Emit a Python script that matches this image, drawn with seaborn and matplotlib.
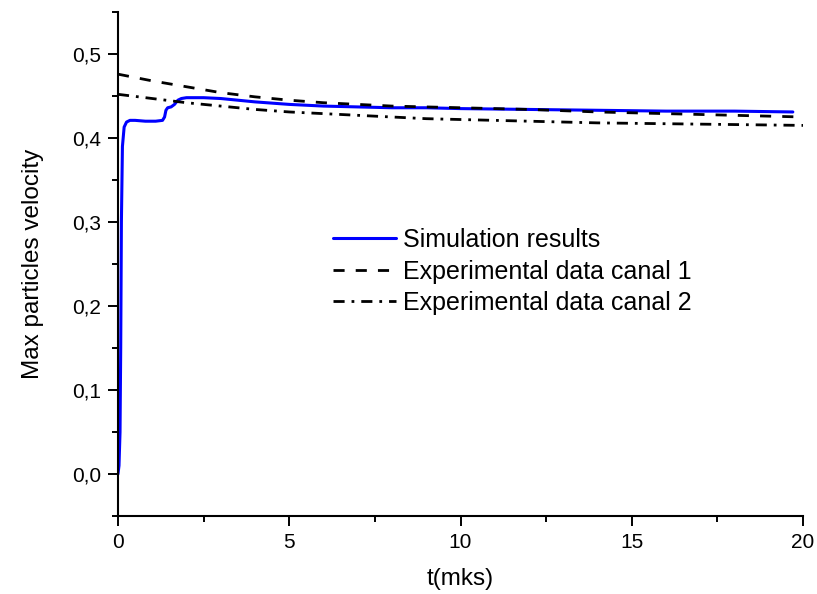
import numpy as np
import pandas as pd
import seaborn as sns
import matplotlib
matplotlib.use("Agg")
import matplotlib.pyplot as plt
from matplotlib.ticker import MultipleLocator, FuncFormatter

# Simulation results
sim_t = [0, 0.03, 0.06, 0.08, 0.1, 0.13, 0.18, 0.25, 0.35, 0.5, 0.8, 1.1, 1.3,
         1.36, 1.40, 1.45, 1.55, 1.65, 1.75, 1.85, 2.0, 2.5, 3.0, 3.5, 4, 5, 6,
         7, 8, 9, 10, 12, 14, 16, 18, 19.7]
sim_v = [0, 0.01, 0.05, 0.15, 0.30, 0.39, 0.413, 0.419, 0.421, 0.421, 0.420,
         0.420, 0.421, 0.425, 0.433, 0.436, 0.437, 0.440, 0.445, 0.447, 0.448,
         0.448, 0.447, 0.445, 0.443, 0.440, 0.438, 0.437, 0.436, 0.436, 0.435,
         0.434, 0.433, 0.432, 0.432, 0.431]

# Experimental data, canal 1
exp1_t = [0, 1, 2, 3, 4, 5, 6, 7, 8, 9, 10, 12, 14, 16, 18, 20]
exp1_v = [0.476, 0.468, 0.461, 0.454, 0.449, 0.445, 0.442, 0.440, 0.438,
          0.437, 0.436, 0.434, 0.431, 0.429, 0.427, 0.425]

# Experimental data, canal 2
exp2_t = [0, 1, 2, 3, 4, 5, 6, 7, 8, 9, 10, 12, 14, 16, 18, 20]
exp2_v = [0.452, 0.447, 0.442, 0.438, 0.434, 0.431, 0.429, 0.427, 0.425,
          0.423, 0.422, 0.420, 0.418, 0.417, 0.416, 0.415]

labels = ["Simulation results", "Experimental data canal 1",
          "Experimental data canal 2"]

sns.set_theme(style="ticks")
plt.rcParams["font.family"] = ["Liberation Sans", "DejaVu Sans"]

fig = plt.figure(figsize=(8.17, 5.94), dpi=100)
ax = fig.add_axes([0.1444, 0.1313, 0.8386, 0.8485])

sns.lineplot(x=sim_t, y=sim_v, ax=ax, color="#0000ff", linewidth=2.2,
             label=labels[0], estimator=None, sort=False)
sns.lineplot(x=exp1_t, y=exp1_v, ax=ax, color="black", linewidth=2.0,
             label=labels[1], estimator=None, sort=False)
sns.lineplot(x=exp2_t, y=exp2_v, ax=ax, color="black", linewidth=2.0,
             label=labels[2], estimator=None, sort=False)

lines = ax.get_lines()
lines[1].set_dashes([4, 4])
lines[2].set_dashes([4, 2.5, 1, 2.5])

ax.set_xlim(0, 20)
ax.set_ylim(-0.05, 0.55)
ax.xaxis.set_major_locator(MultipleLocator(5))
ax.xaxis.set_minor_locator(MultipleLocator(2.5))
ax.yaxis.set_major_locator(MultipleLocator(0.1))
ax.yaxis.set_minor_locator(MultipleLocator(0.05))
ax.yaxis.set_major_formatter(FuncFormatter(lambda v, p: f"{v:.1f}".replace(".", ",")))

for side in ("top", "right"):
    ax.spines[side].set_visible(False)
for side in ("left", "bottom"):
    ax.spines[side].set_linewidth(1.5)
    ax.spines[side].set_color("black")

ax.tick_params(which="major", length=7, width=1.4, color="black",
               labelsize=15, labelcolor="black", pad=5)
ax.tick_params(which="minor", length=4.5, width=1.4, color="black")

ax.set_xlabel("t(mks)", fontsize=17.5, color="black", labelpad=12)
ax.set_ylabel("Max particles velocity", fontsize=17.5, color="black", labelpad=20)

leg = ax.legend(loc="upper left", bbox_to_anchor=(0.314, 0.571), frameon=False,
                fontsize=18, handlelength=2.5, handletextpad=0.3,
                labelspacing=0.3, borderaxespad=0, borderpad=0)
for t in leg.get_texts():
    t.set_color("black")

fig.savefig("out.png", dpi=100, facecolor="white")
